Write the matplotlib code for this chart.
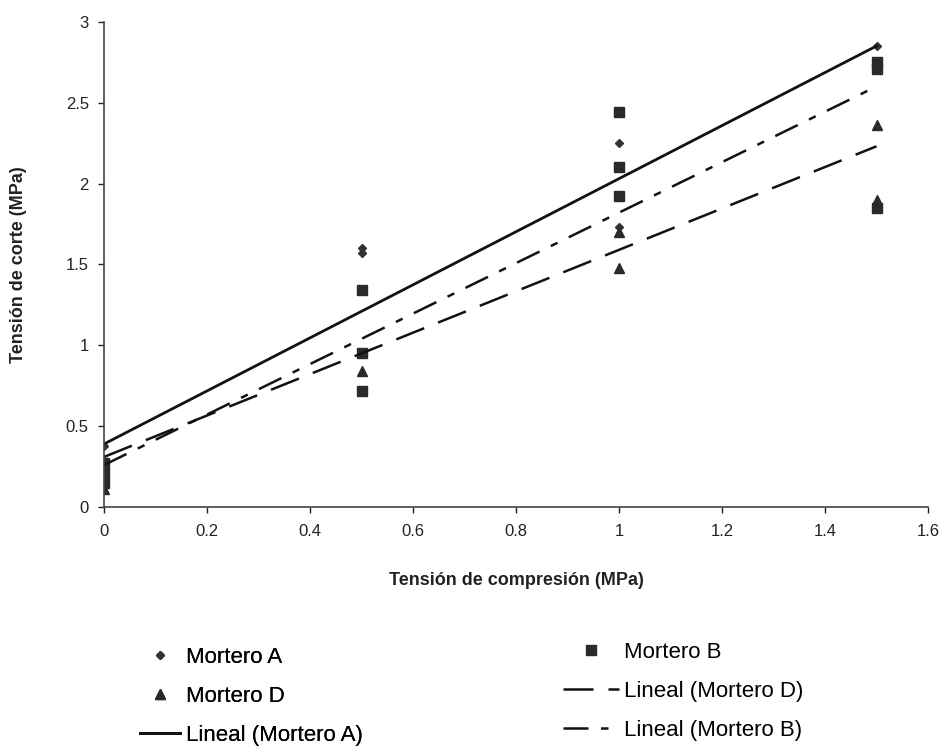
import matplotlib.pyplot as plt

plt.rcParams['font.family'] = ['Liberation Sans', 'DejaVu Sans']

# puntos
x_a = [0, 0.5, 0.5, 1, 1, 1.5]
y_a = [0.38, 1.60, 1.57, 2.25, 1.73, 2.85]
x_b = [0, 0, 0, 0.5, 0.5, 0.5, 1, 1, 1, 1.5, 1.5, 1.5]
y_b = [0.27, 0.21, 0.15, 1.34, 0.95, 0.72, 2.44, 2.10, 1.92, 2.75, 2.71, 1.85]
x_d = [0, 0, 0, 0.5, 1, 1, 1.5, 1.5]
y_d = [0.24, 0.17, 0.11, 0.84, 1.70, 1.48, 2.36, 1.90]

# lineas de tendencia (extremos leidos)
trend_x = [0, 1.5]
trend_a = [0.39, 2.85]
trend_d = [0.31, 2.23]
trend_b = [0.26, 2.60]

fig = plt.figure(figsize=(9.46, 7.49), dpi=100)
ax = fig.add_axes([0.110, 0.323, 0.871, 0.648])

ax.plot(x_a, y_a, linestyle='none', marker='D', markersize=4.5, color='#333333', label='Mortero A')
ax.plot(x_b, y_b, linestyle='none', marker='s', markersize=6.5, color='#2a2a2a', label='Mortero B')
ax.plot(x_d, y_d, linestyle='none', marker='^', markersize=6.5, color='#2a2a2a', label='Mortero D')
ax.plot(trend_x, trend_a, color='#111111', lw=2.0, label='Lineal (Mortero A)')
ax.plot(trend_x, trend_d, color='#111111', lw=1.8, dashes=(12, 6), label='Lineal (Mortero D)')
ax.plot(trend_x, trend_b, color='#111111', lw=1.8, dashes=(10, 5, 3, 5), label='Lineal (Mortero B)')

ax.set_xlim(0, 1.6)
ax.set_ylim(0, 3)
ax.set_xticks([0, 0.2, 0.4, 0.6, 0.8, 1, 1.2, 1.4, 1.6])
ax.set_xticklabels(['0', '0.2', '0.4', '0.6', '0.8', '1', '1.2', '1.4', '1.6'])
ax.set_yticks([0, 0.5, 1, 1.5, 2, 2.5, 3])
ax.set_yticklabels(['0', '0.5', '1', '1.5', '2', '2.5', '3'])
ax.tick_params(labelsize=12, length=4, width=1, colors='#222222')
ax.tick_params(axis='x', pad=8)
ax.tick_params(axis='y', pad=7)
for s in ['top', 'right']:
    ax.spines[s].set_visible(False)
for s in ['left', 'bottom']:
    ax.spines[s].set_linewidth(1.2)
    ax.spines[s].set_color('#444444')

ax.set_xlabel('Tensión de compresión (MPa)', fontsize=13, fontweight='bold', color='#222222')
ax.set_ylabel('Tensión de corte (MPa)', fontsize=13, fontweight='bold', color='#222222')
ax.xaxis.set_label_coords(0.5, -0.134)
ax.yaxis.set_label_coords(-0.0934, 0.5)

h = {l.get_label(): l for l in ax.get_lines()}
left_col = ['Mortero A', 'Mortero D', 'Lineal (Mortero A)']
right_col = ['Mortero B', 'Lineal (Mortero D)', 'Lineal (Mortero B)']
leg_kw = dict(loc='upper left', frameon=False, fontsize=16, borderpad=0,
              borderaxespad=0, handletextpad=0.25, labelspacing=0.8)
leg1 = fig.legend([h[k] for k in left_col], left_col,
                  bbox_to_anchor=(140 / 946, 1 - 647 / 749), handlelength=1.8, **leg_kw)
fig.legend([h[k] for k in right_col], right_col,
           bbox_to_anchor=(563 / 946, 1 - 642 / 749), handlelength=2.5, **leg_kw)
fig.add_artist(leg1)

fig.savefig('out.png', dpi=100)
